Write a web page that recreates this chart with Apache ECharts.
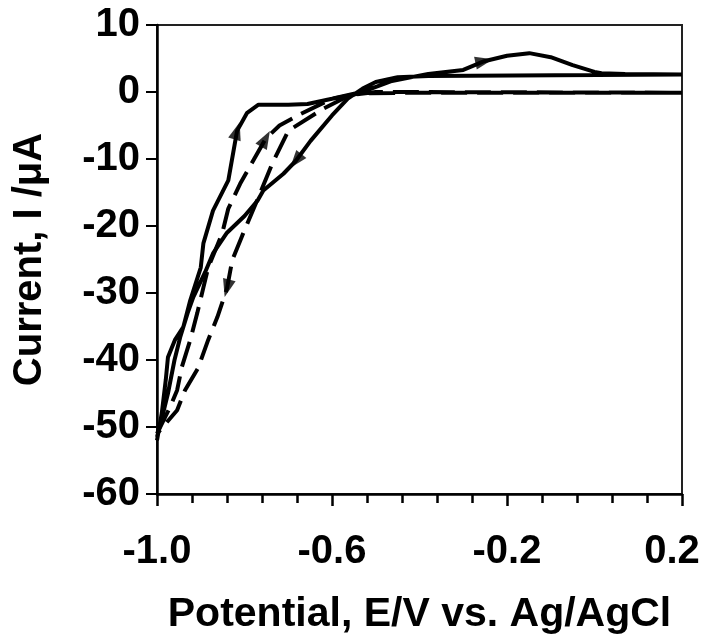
<!DOCTYPE html>
<html>
<head>
<meta charset="utf-8">
<script src="https://cdn.jsdelivr.net/npm/echarts@6/dist/echarts.min.js"></script>
<style>html,body{margin:0;padding:0;background:#fff}#c{width:707px;height:635px}</style>
</head>
<body>
<div id="c"></div>
<script>
// Solid loop: forward scan (up arrow) then return scan
var solidFwdX = [-1.0, -0.989, -0.98, -0.975, -0.959, -0.94, -0.924, -0.90, -0.894, -0.872, -0.837, -0.817, -0.794, -0.768, -0.70, -0.656, -0.60, -0.527, -0.466, -0.38, -0.30, -0.252, -0.20, -0.149, -0.10, -0.05, 0.0, 0.016, 0.07, 0.2];
var solidFwdY = [-52, -47.9, -43, -39.6, -37, -35.1, -31.1, -26.2, -22.6, -17.7, -13.2, -5.8, -3.1, -1.9, -1.9, -1.8, -1.0, 0.1, 1.6, 2.7, 3.3, 4.6, 5.4, 5.8, 5.2, 4.0, 3.0, 2.8, 2.7, 2.6];
var solidRevX = [0.2, -0.38, -0.45, -0.50, -0.53, -0.564, -0.60, -0.649, -0.683, -0.711, -0.757, -0.77, -0.80, -0.84, -0.872, -0.89, -0.917, -0.93, -0.947, -0.96, -0.975, -0.99, -1.0];
var solidRevY = [2.5, 2.4, 2.2, 1.5, 0.5, -1.0, -3.5, -7.3, -10.3, -12.2, -14.7, -16.2, -18.5, -21, -24.1, -26.9, -30.6, -33, -36.6, -40, -45, -49, -51.5];
// Dashed loop
var dashFwdX = [-1.0, -0.97, -0.954, -0.943, -0.924, -0.908, -0.894, -0.883, -0.851, -0.837, -0.81, -0.752, -0.72, -0.672, -0.60, -0.534, -0.40, 0.2];
var dashFwdY = [-51, -47, -44.5, -41, -37, -33, -29.2, -26.2, -21.1, -17.4, -13.7, -7, -5, -3.3, -1.0, -0.2, -0.1, -0.1];
var dashRevX = [0.2, -0.50, -0.56, -0.62, -0.70, -0.736, -0.77, -0.805, -0.828, -0.84, -0.862, -0.883, -0.906, -0.936, -0.954, -1.0];
var dashRevY = [0.0, 0.0, -0.5, -2.5, -5.8, -10.6, -16, -21.4, -25.1, -29.3, -33.6, -37, -41.2, -44.5, -47.5, -51];
// Arrow heads
var arrowX = [-0.817, -0.683, -0.252, -0.752, -0.84];
var arrowY = [-5.8, -10.3, 4.6, -7.0, -29.3];
var arrowRot = [-17, 141, -78, -29, 165];

var xTicks = [-1.0, -0.6, -0.2, 0.2];
var yTicks = [-60, -50, -40, -30, -20, -10, 0, 10];

function pairs(xs, ys) { return xs.map(function (x, i) { return [x, ys[i]]; }); }
var solidData = pairs(solidFwdX, solidFwdY).concat(pairs(solidRevX, solidRevY));
var dashData = pairs(dashFwdX, dashFwdY).concat(pairs(dashRevX, dashRevY));
var arrowData = arrowX.map(function (x, i) { return { value: [x, arrowY[i]], symbolRotate: arrowRot[i] }; });

var FONT = 'Arial, "Liberation Sans", sans-serif';
var xMax = xTicks[xTicks.length - 1];
var chart = echarts.init(document.getElementById('c'), null, { renderer: 'canvas' });
chart.setOption({
  animation: false,
  backgroundColor: '#fff',
  grid: { left: 157, right: 25, top: 25, bottom: 141, containLabel: false, outerBoundsMode: 'none',
    show: true, borderColor: '#222', borderWidth: 2, backgroundColor: 'transparent' },
  xAxis: {
    type: 'value', min: xTicks[0], max: xMax, interval: 0.4,
    name: 'Potential, E/V vs. Ag/AgCl', nameLocation: 'middle', nameGap: 100,
    nameTextStyle: { fontFamily: FONT, fontWeight: 'bold', fontSize: 41, color: '#000' },
    axisLine: { onZero: false, lineStyle: { color: '#000', width: 2.5 } },
    axisTick: { show: true, inside: false, length: 12, lineStyle: { color: '#000', width: 2.5 } },
    minorTick: { show: true, splitNumber: 5, length: 9, lineStyle: { color: '#000', width: 2.5 } },
    splitLine: { show: false },
    axisLabel: { fontFamily: FONT, fontWeight: 'bold', fontSize: 40, color: '#000', margin: 38,
      formatter: function (v) {
        var s = v.toFixed(1);
        return Math.abs(v - xMax) < 1e-9 ? '{r|' + s + '}' : s;
      },
      rich: { r: { fontFamily: FONT, fontWeight: 'bold', fontSize: 40, color: '#000', padding: [0, 20, 0, 0] } }
    }
  },
  yAxis: {
    type: 'value', min: yTicks[0], max: yTicks[yTicks.length - 1], interval: 10,
    name: 'Current, I /μA', nameLocation: 'middle', nameGap: 107, nameRotate: 90,
    nameTextStyle: { fontFamily: FONT, fontWeight: 'bold', fontSize: 40, color: '#000' },
    axisLine: { onZero: false, lineStyle: { color: '#000', width: 2.5 } },
    axisTick: { show: true, inside: false, length: 11, lineStyle: { color: '#000', width: 2 } },
    splitLine: { show: false },
    axisLabel: { fontFamily: FONT, fontWeight: 'bold', fontSize: 40, color: '#000', margin: 17 }
  },
  series: [
    { type: 'line', data: solidData, showSymbol: false, symbol: 'none', smooth: false,
      lineStyle: { color: '#000', width: 4, type: 'solid' }, z: 3 },
    { type: 'line', data: dashData, showSymbol: false, symbol: 'none', smooth: false,
      lineStyle: { color: '#000', width: 4, type: [26, 10] }, z: 3 },
    { type: 'scatter', data: arrowData, symbol: 'triangle', symbolSize: [13, 18],
      itemStyle: { color: '#000' }, z: 4 }
  ]
});
</script>
</body>
</html>
